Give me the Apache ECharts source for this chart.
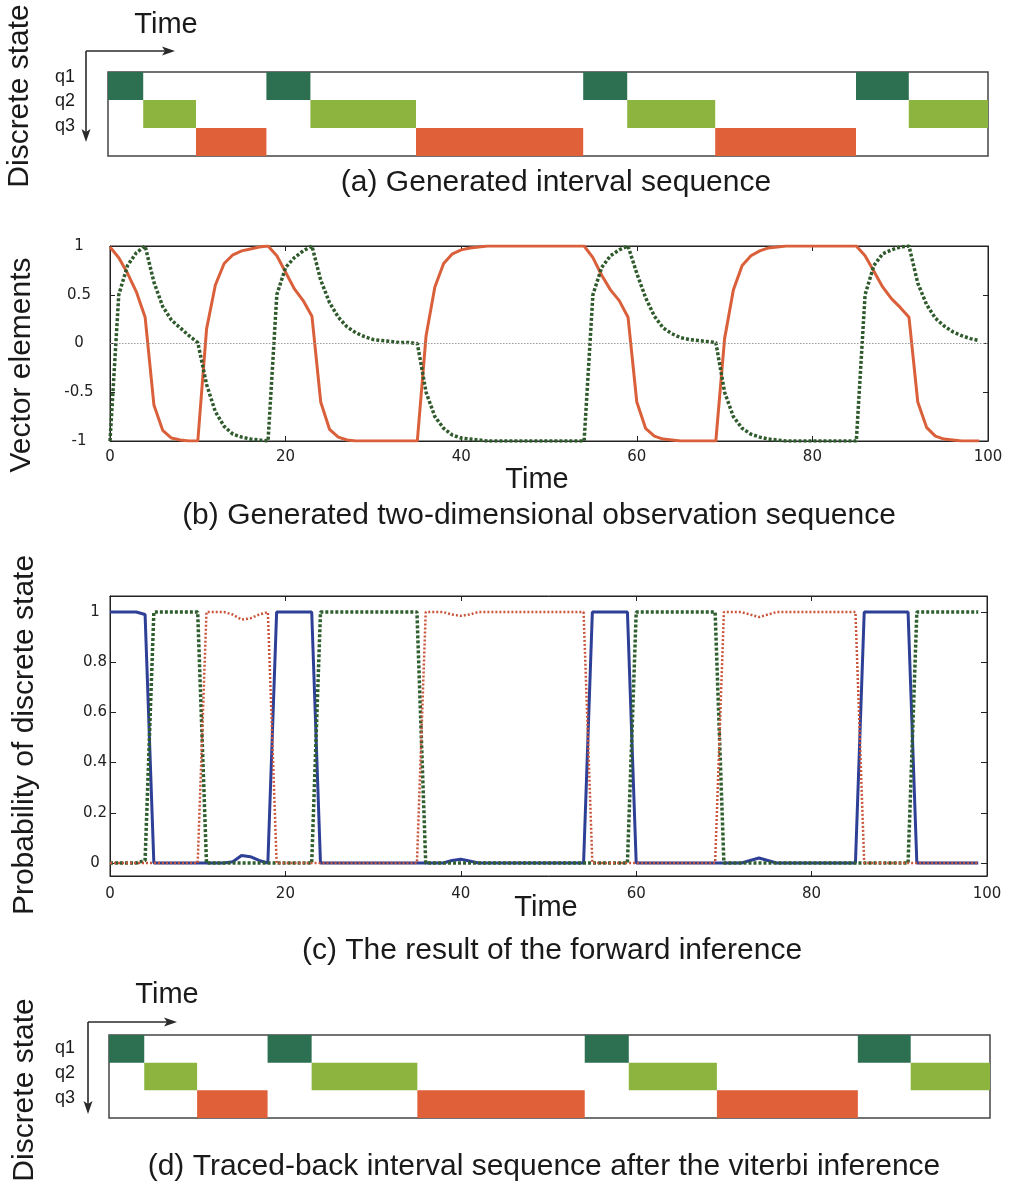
<!DOCTYPE html>
<html>
<head>
<meta charset="utf-8">
<script src="https://cdn.jsdelivr.net/npm/echarts@6/dist/echarts.min.js"></script>
<style>
html,body{margin:0;padding:0;background:#fff;}
#chart{width:1023px;height:1190px;}
</style>
</head>
<body>
<div id="chart"></div>
<script>
// ---------------- DATA ----------------
const stateNames = ['q1', 'q2', 'q3'];
// [start, end, stateIndex]
const generatedIntervals = [[0,4,0],[4,10,1],[10,18,2],[18,23,0],[23,35,1],[35,54,2],[54,59,0],[59,69,1],[69,85,2],[85,91,0],[91,100,1]];
const tracedIntervals    = [[0,4,0],[4,10,1],[10,18,2],[18,23,0],[23,35,1],[35,54,2],[54,59,0],[59,69,1],[69,85,2],[85,91,0],[91,100,1]];

const timeTicks = [0, 20, 40, 60, 80, 100];
const obsTicks = [-1, -0.5, 0, 0.5, 1];
const probTicks = [0, 0.2, 0.4, 0.6, 0.8, 1];

// observation element 1 (t = 0..99)
const obsX1 = [
 0.99,0.88,0.72,0.53,0.27,-0.63,-0.89,-0.97,-0.99,-1,
 -1,0.15,0.6,0.82,0.91,0.95,0.97,0.99,1.0,0.9,
 0.73,0.56,0.44,0.28,-0.6,-0.88,-0.96,-0.99,-1,-1,
 -1,-1,-1,-1,-1,-1,0.08,0.58,0.82,0.92,
 0.96,0.98,0.99,1,1,1,1,1,1,1,
 1,1,1,1,1.0,0.88,0.7,0.55,0.44,0.27,
 -0.6,-0.87,-0.95,-0.98,-0.99,-1,-1,-1,-1,-1,
 0.05,0.55,0.8,0.9,0.95,0.98,0.99,1,1,1,
 1,1,1,1,1,1.0,0.9,0.74,0.58,0.46,
 0.37,0.27,-0.6,-0.86,-0.95,-0.98,-0.99,-1,-1,-1
];
// observation element 2 (t = 0..99)
const obsX2 = [
 -1,0.5,0.8,0.93,1.0,0.63,0.38,0.24,0.16,0.08,
 0.01,-0.42,-0.7,-0.85,-0.93,-0.96,-0.98,-0.99,-1,0.5,
 0.78,0.88,0.95,1.0,0.65,0.42,0.27,0.17,0.11,0.07,
 0.04,0.03,0.02,0.01,0.01,0.0,-0.5,-0.75,-0.87,-0.94,
 -0.97,-0.98,-0.99,-1,-1,-1,-1,-1,-1,-1,
 -1,-1,-1,-1,-1,0.5,0.78,0.9,0.96,1.0,
 0.72,0.47,0.28,0.16,0.1,0.06,0.04,0.03,0.02,0.01,
 -0.5,-0.75,-0.87,-0.93,-0.96,-0.98,-0.99,-1,-1,-1,
 -1,-1,-1,-1,-1,-1,0.5,0.8,0.92,0.96,
 0.99,1.0,0.62,0.4,0.26,0.18,0.12,0.08,0.05,0.03
];
// forward inference probabilities (t = 0..99)
const probQ1 = [
 1,1,1,1,0.99,0,0,0,0,0,
 0,0,0,0,0.005,0.03,0.025,0.01,0,1,
 1,1,1,1,0,0,0,0,0,0,
 0,0,0,0,0,0,0,0,0,0.01,
 0.015,0.008,0,0,0,0,0,0,0,0,
 0,0,0,0,0,1,1,1,1,1,
 0,0,0,0,0,0,0,0,0,0,
 0,0,0,0.01,0.02,0.01,0,0,0,0,
 0,0,0,0,0,0,1,1,1,1,
 1,1,0,0,0,0,0,0,0,0
];
const probQ2 = [
 0,0,0,0,0.01,1,1,1,1,1,
 1,0,0,0,0,0,0,0,0,0,
 0,0,0,0,1,1,1,1,1,1,
 1,1,1,1,1,1,0,0,0,0,
 0,0,0,0,0,0,0,0,0,0,
 0,0,0,0,0,0,0,0,0,0,
 1,1,1,1,1,1,1,1,1,1,
 0,0,0,0,0,0,0,0,0,0,
 0,0,0,0,0,0,0,0,0,0,
 0,0,1,1,1,1,1,1,1,1
];
const probQ3 = [
 0,0,0,0,0,0,0,0,0,0,
 0,1,1,1,0.99,0.97,0.975,0.99,1,0,
 0,0,0,0,0,0,0,0,0,0,
 0,0,0,0,0,0,1,1,1,0.99,
 0.985,0.99,1,1,1,1,1,1,1,1,
 1,1,1,1,1,0,0,0,0,0,
 0,0,0,0,0,0,0,0,0,0,
 1,1,1,0.99,0.98,0.99,1,1,1,1,
 1,1,1,1,1,1,0,0,0,0,
 0,0,0,0,0,0,0,0,0,0
];

// ---------------- STYLE ----------------
const stateColors = ['#2c6f51', '#8cb43e', '#e0603a'];
const tickFont = {fontFamily: 'DejaVu Sans', fontSize: 15, color: '#222'};
const bigFont = 'Liberation Sans';

function pairs(arr) { return arr.map((v, i) => [i, v]); }

function intervalSeries(data, xi, yi) {
  return {
    type: 'custom', xAxisIndex: xi, yAxisIndex: yi, data: data,
    renderItem: function (params, api) {
      const s = api.coord([api.value(0), api.value(2)]);
      const e = api.coord([api.value(1), api.value(2)]);
      const h = api.size([0, 1])[1];
      return {
        type: 'rect',
        shape: {x: s[0], y: s[1] - h / 2, width: e[0] - s[0], height: h},
        style: {fill: stateColors[api.value(2)]}
      };
    }
  };
}

const hiddenX = (g) => ({type: 'value', gridIndex: g, min: 0, max: 100, show: false});
const hiddenY = (g) => ({type: 'category', gridIndex: g, data: stateNames, inverse: true, show: false});
const axisLine = {show: true, onZero: false, lineStyle: {color: '#222', width: 1}};
const tick = (len, cv) => ({inside: true, length: len, customValues: cv, lineStyle: {color: '#222'}});

function txt(x, y, s, size) {
  return {type: 'text', x: x, y: y,
    style: {text: s, fontFamily: bigFont, fontSize: size, fill: '#1a1a1a', textAlign: 'center', textVerticalAlign: 'middle'}};
}
function vtxt(x, y, s, size) {
  return {type: 'text', x: x, y: y, rotation: Math.PI / 2,
    style: {text: s, fontFamily: bigFont, fontSize: size, fill: '#1a1a1a', textAlign: 'center', textVerticalAlign: 'middle'}};
}
function qlabels(ys) {
  return stateNames.map((n, i) => ({type: 'text', x: 55, y: ys[i],
    style: {text: n, fontFamily: bigFont, fontSize: 18, fill: '#1a1a1a', textAlign: 'left', textVerticalAlign: 'middle'}}));
}
function arrows(ox, oy, hx, vy) {
  const c = '#2a2a2a';
  return [
    {type: 'line', shape: {x1: ox, y1: oy, x2: hx - 6, y2: oy}, style: {stroke: c, lineWidth: 1.6}},
    {type: 'polygon', shape: {points: [[hx, oy], [hx - 13, oy - 4.5], [hx - 10, oy], [hx - 13, oy + 4.5]]}, style: {fill: c}},
    {type: 'line', shape: {x1: ox, y1: oy, x2: ox, y2: vy - 6}, style: {stroke: c, lineWidth: 1.6}},
    {type: 'polygon', shape: {points: [[ox, vy], [ox - 4.5, vy - 13], [ox, vy - 10], [ox + 4.5, vy - 13]]}, style: {fill: c}}
  ];
}

const option = {
  animation: false,
  backgroundColor: '#fff',
  grid: [
    {left: 108, top: 72, width: 880, height: 84, show: true, borderColor: '#444', borderWidth: 1.5, backgroundColor: 'transparent'},
    {left: 110, top: 246, width: 878, height: 195, show: true, borderColor: '#222', borderWidth: 1, backgroundColor: 'transparent'},
    {left: 110, top: 596, width: 877, height: 280, show: true, borderColor: '#222', borderWidth: 1, backgroundColor: 'transparent'},
    {left: 109, top: 1035, width: 881, height: 83, show: true, borderColor: '#444', borderWidth: 1.5, backgroundColor: 'transparent'}
  ],
  xAxis: [
    hiddenX(0),
    {type: 'value', gridIndex: 1, min: 0, max: 100, interval: 20, axisLine: axisLine,
      axisTick: tick(5, timeTicks), axisLabel: Object.assign({margin: 9, customValues: timeTicks}, tickFont), splitLine: {show: false}},
    {type: 'value', gridIndex: 1, position: 'top', min: 0, max: 100, interval: 20, axisLine: axisLine,
      axisTick: tick(5, timeTicks), axisLabel: {show: false}, splitLine: {show: false}},
    {type: 'value', gridIndex: 2, min: 0, max: 100, interval: 20, axisLine: axisLine,
      axisTick: tick(5, timeTicks), axisLabel: Object.assign({margin: 11, customValues: timeTicks}, tickFont), splitLine: {show: false}},
    {type: 'value', gridIndex: 2, position: 'top', min: 0, max: 100, interval: 20, axisLine: axisLine,
      axisTick: tick(5, timeTicks), axisLabel: {show: false}, splitLine: {show: false}},
    hiddenX(3)
  ],
  yAxis: [
    hiddenY(0),
    {type: 'value', gridIndex: 1, min: -1, max: 1, interval: 0.5, axisLine: axisLine,
      axisTick: tick(5, obsTicks), axisLabel: Object.assign({margin: 31, align: 'center', customValues: obsTicks}, tickFont), splitLine: {show: false}},
    {type: 'value', gridIndex: 1, position: 'right', min: -1, max: 1, interval: 0.5, axisLine: axisLine,
      axisTick: tick(5, obsTicks), axisLabel: {show: false}, splitLine: {show: false}},
    {type: 'value', gridIndex: 2, min: -0.052, max: 1.064, axisLine: axisLine,
      axisTick: tick(6, probTicks), axisLabel: Object.assign({margin: 15, align: 'center', customValues: probTicks}, tickFont), splitLine: {show: false}},
    {type: 'value', gridIndex: 2, position: 'right', min: -0.052, max: 1.064, axisLine: axisLine,
      axisTick: tick(6, probTicks), axisLabel: {show: false}, splitLine: {show: false}},
    hiddenY(3)
  ],
  series: [
    intervalSeries(generatedIntervals, 0, 0),
    {type: 'line', xAxisIndex: 1, yAxisIndex: 1, data: pairs(obsX1), showSymbol: false,
      lineStyle: {color: '#d9603a', width: 3}, z: 3,
      markLine: {silent: true, symbol: 'none', label: {show: false},
        lineStyle: {color: '#999', type: [1.5, 1.5], width: 1}, data: [{yAxis: 0}]}},
    {type: 'line', xAxisIndex: 1, yAxisIndex: 1, data: pairs(obsX2), showSymbol: false,
      lineStyle: {color: '#2f5a2c', width: 3.5, type: [3, 2]}, z: 4},
    {type: 'line', xAxisIndex: 3, yAxisIndex: 3, data: pairs(probQ1), showSymbol: false,
      lineStyle: {color: '#2e3f96', width: 3}, z: 3},
    {type: 'line', xAxisIndex: 3, yAxisIndex: 3, data: pairs(probQ2), showSymbol: false,
      lineStyle: {color: '#2f5f2e', width: 3.5, type: [3, 2]}, z: 4},
    {type: 'line', xAxisIndex: 3, yAxisIndex: 3, data: pairs(probQ3), showSymbol: false,
      lineStyle: {color: '#c9553c', width: 2.5, type: [2, 2]}, z: 5},
    intervalSeries(tracedIntervals, 5, 5)
  ],
  graphic: [].concat(
    [vtxt(20, 96, 'Discrete state', 30), txt(166, 25, 'Time', 29)],
    qlabels([77, 101, 126]),
    arrows(86, 51, 175, 142),
    [txt(556, 183, '(a) Generated interval sequence', 30)],
    [vtxt(22, 365, 'Vector elements', 30), txt(537, 480, 'Time', 29),
     txt(539, 516, '(b) Generated two-dimensional observation sequence', 30)],
    [vtxt(25, 735, 'Probability of discrete state', 30), txt(546, 908, 'Time', 29),
     txt(552, 951, '(c) The result of the forward inference', 30)],
    [vtxt(25, 1090, 'Discrete state', 30), txt(167, 995, 'Time', 29)],
    qlabels([1048, 1073, 1098]),
    arrows(88, 1022, 177, 1114),
    [txt(544, 1167, '(d) Traced-back interval sequence after the viterbi inference', 30)]
  )
};

const chart = echarts.init(document.getElementById('chart'), null, {renderer: 'canvas'});
chart.setOption(option);
</script>
</body>
</html>
